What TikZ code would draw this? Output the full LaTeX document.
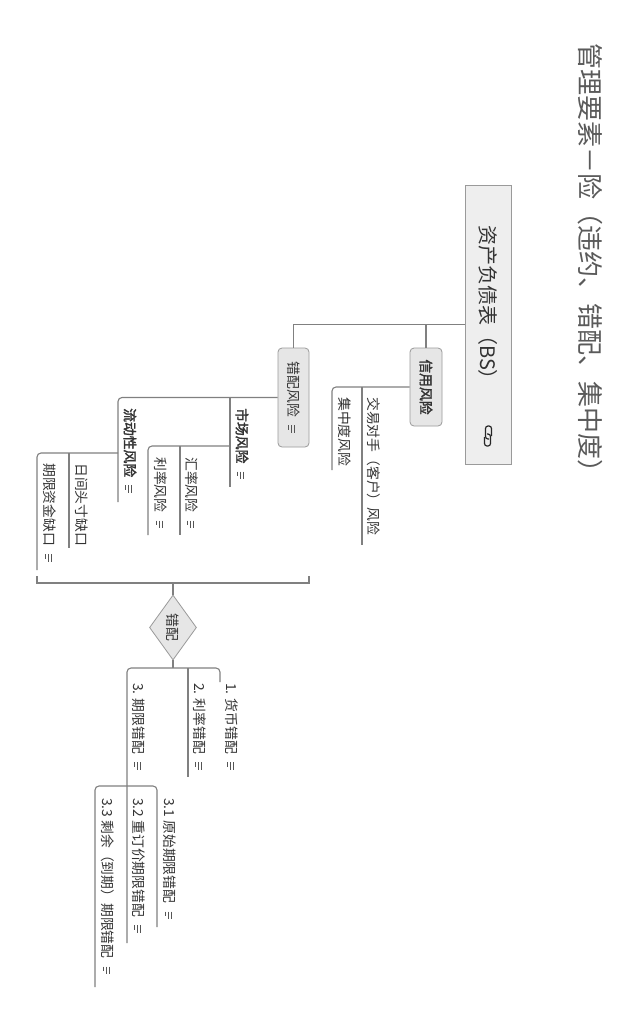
\documentclass[tikz,border=0pt]{standalone}
\usepackage{fontspec}
\setmainfont{Noto Sans CJK SC}[AutoFakeBold=2]
\usetikzlibrary{shapes.geometric}
\definecolor{linec}{HTML}{808080}
\definecolor{txt}{HTML}{333333}
\definecolor{titlec}{HTML}{5A5A5A}
\definecolor{boxfill}{HTML}{E6E6E6}
\definecolor{rootfill}{HTML}{EEEEEE}
\definecolor{boxdraw}{HTML}{9A9A9A}
\definecolor{iconc}{HTML}{555555}
\newcommand\noteic{\hspace{0.6em}{\color{iconc}\vbox{\hrule width 0.55em height 0.075em\vskip0.15em\hrule width 0.55em height 0.075em\vskip0.15em\hrule width 0.32em height 0.075em}}}
\tikzset{
  conn/.style={draw=linec, line width=1.1pt},
  leaf/.style={rotate=-90, anchor=west, inner sep=0pt, font=\fontsize{13.8}{16}\selectfont, text=txt},
  boldleaf/.style={leaf, font=\fontsize{13.8}{16}\selectfont\bfseries},
  topicbox/.style={rotate=-90, draw=boxdraw, fill=boxfill, rounded corners=4pt, inner sep=0pt, line width=0.8pt, text=txt, font=\fontsize{13.8}{16}\selectfont},
  rootbox/.style={rotate=-90, draw=boxdraw, fill=rootfill, inner sep=0pt, line width=0.8pt},
  iconline/.style={draw=black!85, line width=1.2pt, rounded corners=2.5pt}
}
\begin{document}
\begin{tikzpicture}[x=1pt, y=-1pt]
\fill[white] (0,0) rectangle (642,1018);
\useasboundingbox (0,0) rectangle (642,1018);

% title
\node[rotate=-90, anchor=west, inner sep=0pt, text=titlec, font=\fontsize{26}{30}\selectfont] (title) at (590,43) {管理要素－险（违约、错配、集中度）};

% root
\node[rootbox, minimum width=279pt, minimum height=46pt] (root) at (488,324.5) {};
\node[leaf, font=\fontsize{20}{24}\selectfont] (rootlabel) at (488,225) {资产负债表（BS）};
\draw[iconline] (484.5,437) -- (484.5,446) -- (490.5,446) -- (490.5,434) -- (487,434);
\draw[iconline] (491.5,436) -- (491.5,426) -- (485.5,426) -- (485.5,439) -- (489,439);

% main topics
\node[topicbox, minimum width=78pt, minimum height=32pt, font=\fontsize{13.8}{16}\selectfont\bfseries] (credit) at (426,387) {信用风险};
\node[topicbox, minimum width=99pt, minimum height=31pt] (mism) at (293.5,397.5) {错配风险\noteic};

\draw[conn] (root.south) -| (mism.west);
\draw[conn] (credit.west) -- (credit.west |- root.south);

% credit children
\node[leaf] (cpty) at (374,397) {交易对手（客户）风险};
\node[leaf] (conc) at (345,397) {集中度风险};
\coordinate (cr1) at (362,545);
\coordinate (cr2) at (332,470);
\draw[conn, rounded corners=4pt] (credit.south) -| (cr2);
\draw[conn] (cr1 |- credit.south) -- (cr1);

% mismatch children
\node[boldleaf] (mkt) at (242,408) {市场风险\noteic};
\node[boldleaf] (liq) at (130,408) {流动性风险\noteic};
\coordinate (mk1) at (230,487);
\coordinate (lq1) at (118,502);
\draw[conn, rounded corners=4pt] (mism.south) -| (lq1);
\draw[conn] (mk1 |- mism.south) -- (mk1);

% market children
\node[leaf] (fx) at (192,457) {汇率风险\noteic};
\node[leaf] (ir) at (161,457) {利率风险\noteic};
\coordinate (mkj) at (230,446);
\coordinate (fx1) at (180,535);
\coordinate (ir1) at (148,535);
\draw[conn, rounded corners=4pt] (mkj) -| (ir1);
\draw[conn] (fx1 |- mkj) -- (fx1);

% liquidity children
\node[leaf] (intra) at (82,463) {日间头寸缺口};
\node[leaf] (fundgap) at (50,463) {期限资金缺口\noteic};
\coordinate (lqj) at (118,453);
\coordinate (in1) at (69,548);
\coordinate (fg1) at (37,570);
\draw[conn, rounded corners=4pt] (lqj) -| (fg1);
\draw[conn] (in1 |- lqj) -- (in1);

% bracket
\coordinate (brl) at (37,576);
\coordinate (brr) at (309,576);
\coordinate (brm) at (173,583);
\draw[conn] (brl) -- (brl |- brm) -- (brr |- brm) -- (brr);

% diamond
\node[diamond, draw=boxdraw, fill=boxfill, rotate=-90, minimum width=65pt, minimum height=47pt, inner sep=0pt, line width=0.8pt, text=txt, font=\fontsize{13.8}{16}\selectfont] (dia) at (173,627.5) {错配};
\draw[conn] (brm) -- (dia.west);

% mismatch types
\node[leaf] (m1) at (232,683) {1. 货币错配\noteic};
\node[leaf] (m2) at (200,683) {2. 利率错配\noteic};
\node[leaf] (m3) at (139,683) {3. 期限错配\noteic};
\coordinate (dj) at (173,668);
\coordinate (m1e) at (220,682);
\coordinate (m2e) at (188,777);
\coordinate (m3e) at (127,943);
\draw[conn] (dia.east) -- (dj);
\draw[conn, rounded corners=4pt] (m1e) |- (m3e |- dj) -- (m3e);
\draw[conn] (m2e |- dj) -- (m2e);

% term mismatch children
\node[leaf] (m31) at (170,798) {3.1 原始期限错配\noteic};
\node[leaf] (m32) at (139,798) {3.2 重订价期限错配\noteic};
\node[leaf] (m33) at (108,798) {3.3 剩余（到期）期限错配\noteic};
\coordinate (kj) at (127,786);
\coordinate (k1) at (157,927);
\coordinate (k3) at (95,987);
\draw[conn, rounded corners=4pt] (k1) |- (kj) -| (k3);
\end{tikzpicture}
\end{document}
